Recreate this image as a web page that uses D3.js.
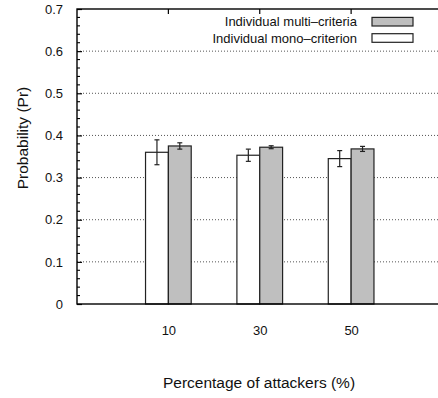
<!DOCTYPE html>
<html>
<head>
<meta charset="utf-8">
<script src="https://cdn.jsdelivr.net/npm/d3@7"></script>
<style>
  body { margin: 0; background: #fff; }
  svg { font-family: "Liberation Sans", Arial, Helvetica, sans-serif; }
</style>
</head>
<body>
<div id="chart"></div>
<script>
// values
const categories = ["10", "30", "50"];
const mono = [0.360, 0.353, 0.345];
const monoErr = [0.0295, 0.0145, 0.019];
const multi = [0.375, 0.372, 0.368];
const multiErr = [0.0075, 0.0035, 0.006];
const yTicks = [0, 0.1, 0.2, 0.3, 0.4, 0.5, 0.6, 0.7];
const seriesNames = ["Individual multi\u2013criteria", "Individual mono\u2013criterion"];

const width = 438, height = 398;
const plotL = 77, plotT = 9, plotB = 304, plotR = 442.5;

const svg = d3.select("#chart").append("svg")
    .attr("width", width)
    .attr("height", height);

const x = d3.scaleLinear().domain([0, categories.length + 1]).range([plotL, plotR]);
const y = d3.scaleLinear().domain([0, 0.7]).range([plotB, plotT]);
const barW = 0.25;

// dotted grid
svg.append("g")
  .selectAll("line")
  .data(yTicks.slice(1, -1))
  .enter().append("line")
    .attr("x1", plotL).attr("x2", plotR)
    .attr("y1", d => y(d)).attr("y2", d => y(d))
    .attr("stroke", "#555")
    .attr("stroke-width", 1)
    .attr("stroke-dasharray", "1,2");

// bars
const groups = svg.append("g")
  .selectAll("g")
  .data(categories)
  .enter().append("g");

groups.append("rect")
    .attr("x", (d, i) => x(i + 1 - barW))
    .attr("width", (d, i) => x(i + 1) - x(i + 1 - barW))
    .attr("y", (d, i) => y(mono[i]))
    .attr("height", (d, i) => y(0) - y(mono[i]))
    .attr("fill", "#fff")
    .attr("stroke", "#222")
    .attr("stroke-width", 1.2);

groups.append("rect")
    .attr("x", (d, i) => x(i + 1))
    .attr("width", (d, i) => x(i + 1 + barW) - x(i + 1))
    .attr("y", (d, i) => y(multi[i]))
    .attr("height", (d, i) => y(0) - y(multi[i]))
    .attr("fill", "#bfbfbf")
    .attr("stroke", "#222")
    .attr("stroke-width", 1.2);

// error bars
function errBar(cx, v, e) {
  const g = svg.append("g").attr("stroke", "#222").attr("stroke-width", 1.2);
  g.append("line").attr("x1", cx).attr("x2", cx).attr("y1", y(v - e)).attr("y2", y(v + e));
  g.append("line").attr("x1", cx - 2.5).attr("x2", cx + 2.5).attr("y1", y(v - e)).attr("y2", y(v - e));
  g.append("line").attr("x1", cx - 2.5).attr("x2", cx + 2.5).attr("y1", y(v + e)).attr("y2", y(v + e));
}
categories.forEach((c, i) => {
  errBar(x(i + 1 - barW / 2), mono[i], monoErr[i]);
  errBar(x(i + 1 + barW / 2), multi[i], multiErr[i]);
});

// frame
svg.append("rect")
    .attr("x", plotL).attr("y", plotT)
    .attr("width", plotR - plotL).attr("height", plotB - plotT)
    .attr("fill", "none")
    .attr("stroke", "#000")
    .attr("stroke-width", 1.4);

// y axis with minor ticks
const yAxis = d3.axisLeft(y).tickValues(yTicks).tickSize(-5).tickPadding(14)
    .tickFormat(d => d === 0 ? "0" : d3.format(".1f")(d));
const gy = svg.append("g").attr("transform", `translate(${plotL},0)`).call(yAxis);
gy.select(".domain").remove();
gy.selectAll("text").attr("font-size", 13).attr("fill", "#111")
    .attr("font-family", "Liberation Sans, Arial, sans-serif");
gy.selectAll("line").attr("stroke", "#000").attr("stroke-width", 1.2);

const minor = d3.range(0, 0.7001, 0.02).filter(v => Math.round(v * 100) % 10 !== 0);
svg.append("g").selectAll("line").data(minor).enter().append("line")
    .attr("x1", plotL).attr("x2", plotL + 3)
    .attr("y1", d => y(d)).attr("y2", d => y(d))
    .attr("stroke", "#000").attr("stroke-width", 1.1);

// x axis labels + top ticks
const xAxis = d3.axisBottom(x).tickValues(categories.map((c, i) => i + 1))
    .tickFormat((d, i) => categories[i]).tickSize(0).tickPadding(22);
const gx = svg.append("g").attr("transform", `translate(0,${plotB})`).call(xAxis);
gx.select(".domain").remove();
gx.selectAll("text").attr("font-size", 13).attr("fill", "#111")
    .attr("font-family", "Liberation Sans, Arial, sans-serif");

svg.append("g").selectAll("line").data(categories).enter().append("line")
    .attr("x1", (d, i) => x(i + 1)).attr("x2", (d, i) => x(i + 1))
    .attr("y1", plotT).attr("y2", plotT + 5)
    .attr("stroke", "#000").attr("stroke-width", 1.2);

// axis titles
svg.append("text")
    .attr("x", 259).attr("y", 388)
    .attr("text-anchor", "middle")
    .attr("font-size", 15.5)
    .attr("fill", "#111")
    .text("Percentage of attackers (%)");

svg.append("text")
    .attr("transform", "translate(28,138) rotate(-90)")
    .attr("text-anchor", "middle")
    .attr("font-size", 15.5)
    .attr("fill", "#111")
    .text("Probability (Pr)");

// legend
const legendFills = ["#bfbfbf", "#fff"];
const legend = svg.append("g").selectAll("g").data(seriesNames).enter().append("g")
    .attr("transform", (d, i) => `translate(0,${21.7 + i * 16.3})`);
legend.append("text")
    .attr("x", 357).attr("dy", "0.35em")
    .attr("text-anchor", "end")
    .attr("font-size", 13)
    .attr("fill", "#111")
    .text(d => d);
legend.append("rect")
    .attr("x", 372).attr("y", -4.3)
    .attr("width", 41).attr("height", 8.6)
    .attr("fill", (d, i) => legendFills[i])
    .attr("stroke", "#222")
    .attr("stroke-width", 1.2);
</script>
</body>
</html>
